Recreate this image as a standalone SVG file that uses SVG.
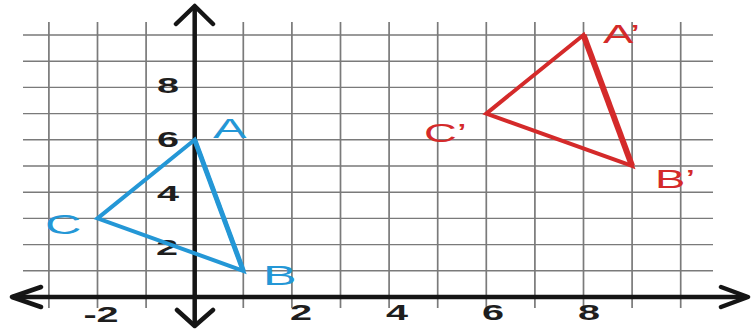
<svg xmlns="http://www.w3.org/2000/svg" width="751" height="330" viewBox="0 0 751 330">
<style>
.bg{fill:#ffffff}
.gv{stroke:#7a7a7a;stroke-width:1.7;fill:none}
.gh{stroke:#7a7a7a;stroke-width:1.4;fill:none}
.ax{stroke:#151515;stroke-width:4.5;fill:none;stroke-linecap:round;stroke-linejoin:round}
.num{font-family:"Liberation Sans",Arial,sans-serif;font-weight:bold;font-size:22px;fill:#1e1e1e;text-anchor:middle}
.lb{font-family:"Liberation Sans",Arial,sans-serif;font-size:28px;fill:#2497d6}
.lr{font-family:"Liberation Sans",Arial,sans-serif;font-size:26px;fill:#d42a2a}
.tb{stroke:#2497d6;stroke-width:4;fill:none;stroke-linejoin:miter}
.tr{stroke:#d42a2a;stroke-width:4;fill:none;stroke-linejoin:miter}
</style>
<rect class="bg" x="0" y="0" width="751" height="330"/>
<g id="grid">
<path class="gh" d="M23 270.8H713M23 244.6H713M23 218.4H713M23 192.2H713M23 166H713M23 139.8H713M23 113.6H713M23 87.4H713M23 61.2H713M23 35H713"/>
<path class="gv" d="M48.9 22V308M97.5 22V308M146.1 22V308M243.3 22V308M291.9 22V308M340.5 22V308M389.1 22V308M437.7 22V308M486.3 22V308M534.9 22V308M583.5 22V308M632.1 22V308M680.7 22V308"/>
</g>
<g id="tick-labels">
<text class="num" transform="translate(168,93) scale(1.8,1)">8</text>
<text class="num" transform="translate(168,147) scale(1.8,1)">6</text>
<text class="num" transform="translate(168,201) scale(1.8,1)">4</text>
<text class="num" transform="translate(167,255) scale(1.8,1)">2</text>
<text class="num" transform="translate(101,322) scale(1.8,1)">-2</text>
<text class="num" transform="translate(301,320) scale(1.8,1)">2</text>
<text class="num" transform="translate(397,320) scale(1.8,1)">4</text>
<text class="num" transform="translate(493,320) scale(1.8,1)">6</text>
<text class="num" transform="translate(589,320) scale(1.8,1)">8</text>
</g>
<g id="axes">
<path class="ax" d="M194.7 7V325M13 297H746"/>
<path class="ax" d="M176 24L194.7 6L213 24M177 310L194.7 326L213 310M41 287L12 297L41 307M721 287L748 297L721 307"/>
</g>
<g id="triangle-ABC">
<path class="tb" d="M194.7 139.8L243.3 270.8L97.5 218.4Z"/>
<path class="tb" style="stroke-width:5" d="M194.7 139.8L243.3 270.8"/>
<text class="lb" transform="translate(213,138) scale(1.8,1)">A</text>
<text class="lb" transform="translate(263,285) scale(1.8,1)">B</text>
<text class="lb" transform="translate(45,234) scale(1.8,1)">C</text>
</g>
<g id="triangle-A1B1C1">
<path class="tr" d="M583.5 35L632.1 166L486.3 113.6Z"/>
<path class="tr" style="stroke-width:6" d="M583.5 35L632.1 166"/>
<text class="lr" transform="translate(603,43) scale(1.75,1)">A’</text>
<text class="lr" transform="translate(655,188) scale(1.75,1)">B’</text>
<text class="lr" transform="translate(424,142) scale(1.75,1)">C’</text>
</g>
</svg>
